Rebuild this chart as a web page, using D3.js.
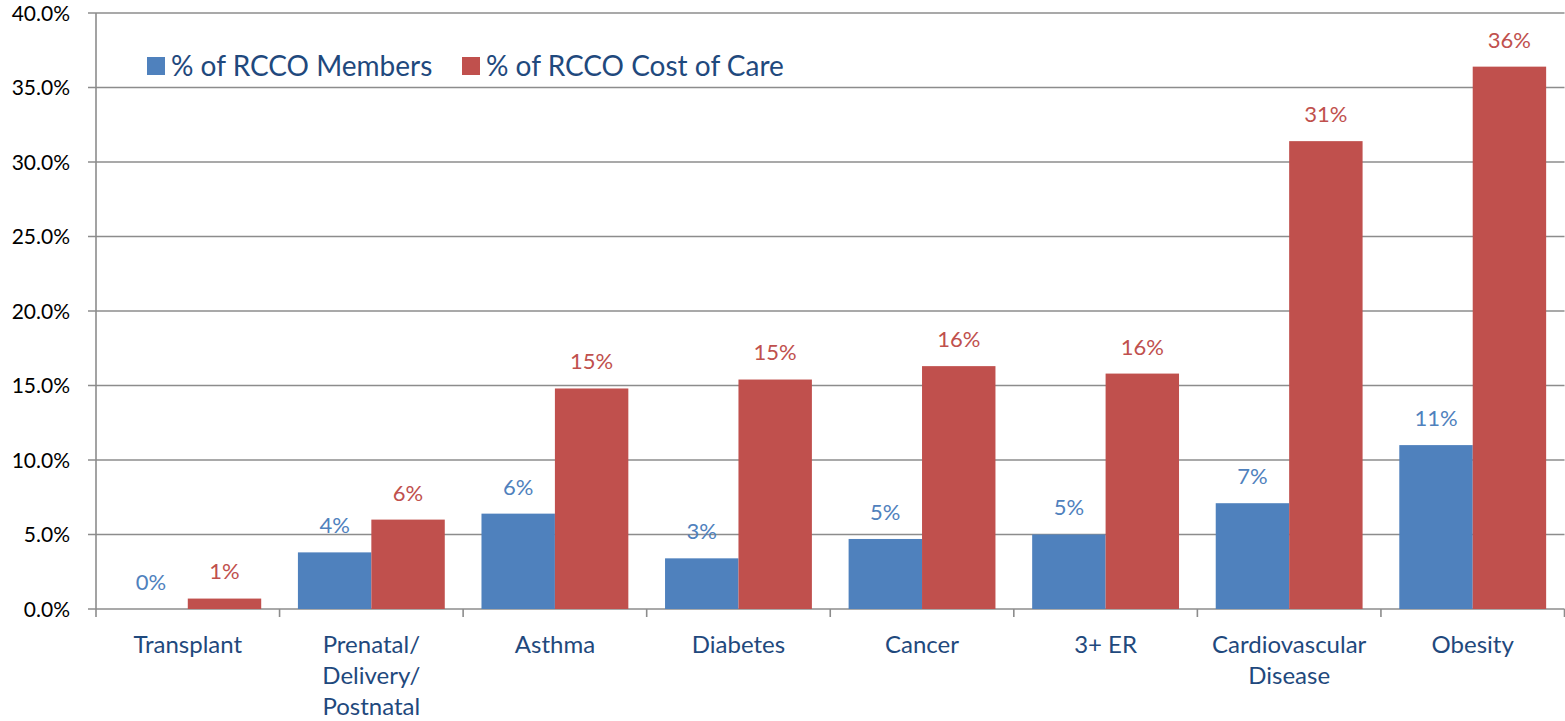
<!DOCTYPE html>
<meta charset="utf-8">
<style>
body { margin: 0; background: #fff; }
svg { display: block; font-family: Lato, "Open Sans", sans-serif; }
.grid line { stroke: #8c8c8c; stroke-width: 1.6; }
.axis path, .axis line { stroke: #8c8c8c; stroke-width: 1.6; }
.yaxis text { fill: #000; font-size: 21px; }
.xlab { fill: #1f497d; font-size: 24px; }
.legend text { fill: #1f497d; font-size: 28px; }
.vlabel { font-size: 22px; }
</style>
<svg id="chart" width="1565" height="721"></svg>
<script src="https://d3js.org/d3.v7.min.js"></script>
<script>
// data (percent)
var categories = ["Transplant", "Prenatal/\nDelivery/\nPostnatal", "Asthma", "Diabetes", "Cancer", "3+ ER", "Cardiovascular\nDisease", "Obesity"];
var members = [0, 3.8, 6.4, 3.4, 4.7, 5.0, 7.1, 11.0];
var costOfCare = [0.7, 6.0, 14.8, 15.4, 16.3, 15.8, 31.4, 36.4];
var seriesNames = ["% of RCCO Members", "% of RCCO Cost of Care"];
var yTicks = [0, 5, 10, 15, 20, 25, 30, 35, 40];
var colors = ["#4f81bd", "#c0504d"];

var svg = d3.select("svg#chart"),
    width = +svg.attr("width"),
    height = +svg.attr("height");

var margin = {top: 13, right: 0.5, bottom: 112, left: 96};
var innerW = width - margin.left - margin.right,
    innerH = height - margin.top - margin.bottom;

var g = svg.append("g").attr("transform", "translate(" + margin.left + "," + margin.top + ")");

var x0 = d3.scaleBand().domain(categories).range([0, innerW]).paddingInner(0.2).paddingOuter(0.1);
var x1 = d3.scaleBand().domain([0, 1]).range([0, x0.bandwidth()]);
var y = d3.scaleLinear().domain([0, 40]).range([innerH, 0]);
var fmtAxis = d3.format(".1%");
var fmtLabel = d3.format(".0%");

// gridlines (extend 8px left as tick marks)
g.append("g").attr("class", "grid")
  .selectAll("line").data(yTicks).enter().append("line")
    .attr("x1", -8).attr("x2", innerW)
    .attr("y1", function(d) { return y(d); })
    .attr("y2", function(d) { return y(d); });

// y tick labels
g.append("g").attr("class", "yaxis")
  .selectAll("text").data(yTicks).enter().append("text")
    .attr("x", -26)
    .attr("y", function(d) { return y(d); })
    .attr("dy", "0.36em")
    .attr("text-anchor", "end")
    .text(function(d) { return fmtAxis(d / 100); });

// rows of data
var rows = categories.map(function(c, i) { return {cat: c, vals: [members[i], costOfCare[i]]}; });

var group = g.append("g").selectAll("g").data(rows).enter().append("g")
  .attr("transform", function(d) { return "translate(" + x0(d.cat) + ",0)"; });

group.selectAll("rect").data(function(d) { return d.vals; }).enter().append("rect")
  .attr("x", function(d, i) { return x1(i); })
  .attr("y", function(d) { return y(d); })
  .attr("width", x1.bandwidth())
  .attr("height", function(d) { return innerH - y(d); })
  .attr("fill", function(d, i) { return colors[i]; });

group.selectAll("text.vlabel").data(function(d) { return d.vals; }).enter().append("text")
  .attr("class", "vlabel")
  .attr("x", function(d, i) { return x1(i) + x1.bandwidth() / 2; })
  .attr("y", function(d) { return y(d) - 27; })
  .attr("dy", "0.36em")
  .attr("text-anchor", "middle")
  .attr("fill", function(d, i) { return colors[i]; })
  .text(function(d) { return fmtLabel(d / 100); });

// y axis line and x axis
g.append("line").attr("class", "axisline")
  .attr("x1", 0).attr("x2", 0).attr("y1", 0).attr("y2", innerH)
  .attr("stroke", "#8c8c8c").attr("stroke-width", 1.6);

var step = x0.step();
var bounds = d3.range(categories.length + 1).map(function(i) { return x0(categories[0]) - x0.paddingOuter() * step + i * step; });
g.append("g").attr("class", "axis")
  .selectAll("line").data(bounds).enter().append("line")
    .attr("x1", function(d) { return d; }).attr("x2", function(d) { return d; })
    .attr("y1", innerH).attr("y2", innerH + 8);

// category labels
var xl = g.append("g").selectAll("text").data(categories).enter().append("text")
  .attr("class", "xlab")
  .attr("text-anchor", "middle")
  .attr("x", function(d) { return x0(d) + x0.bandwidth() / 2; })
  .attr("y", innerH + 35);
xl.each(function(d) {
  var t = d3.select(this);
  d.split("\n").forEach(function(line, i) {
    t.append("tspan").attr("x", t.attr("x")).attr("dy", i === 0 ? "0.36em" : 31).text(line);
  });
});

// legend
var legend = svg.append("g").attr("class", "legend");
var legendX = [147, 462];
seriesNames.forEach(function(name, i) {
  legend.append("rect").attr("x", legendX[i]).attr("y", 57).attr("width", 18).attr("height", 18).attr("fill", colors[i]);
  legend.append("text").attr("x", legendX[i] + 24).attr("y", 66).attr("dy", "0.36em").text(name);
});
</script>
